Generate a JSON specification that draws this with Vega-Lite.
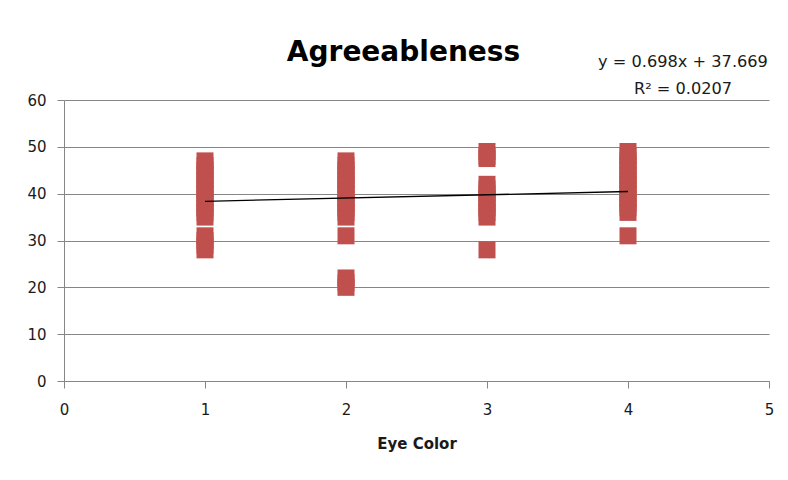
{
  "$schema": "https://vega.github.io/schema/vega-lite/v6.json",
  "width": 705,
  "height": 281,
  "autosize": {"type": "none"},
  "padding": {"left": 64, "top": 100, "right": 19, "bottom": 99},
  "background": "white",
  "config": {
    "view": {"stroke": null},
    "font": "DejaVu Sans",
    "axis": {
      "domainColor": "#868686",
      "tickColor": "#868686",
      "gridColor": "#868686",
      "labelFont": "DejaVu Sans",
      "labelFontSize": 15,
      "labelColor": "#1a1a1a",
      "titleFont": "DejaVu Sans",
      "titleColor": "#1a1a1a"
    }
  },
  "title": {
    "text": "Agreeableness",
    "font": "DejaVu Sans",
    "fontSize": 28,
    "fontWeight": "bold",
    "color": "#000000",
    "anchor": "middle",
    "baseline": "bottom",
    "offset": -41,
    "dx": -13
  },
  "datasets": {
    "pts": [
      {"eye": 1, "score": 28}, {"eye": 1, "score": 29}, {"eye": 1, "score": 30}, {"eye": 1, "score": 31},
      {"eye": 1, "score": 35}, {"eye": 1, "score": 36}, {"eye": 1, "score": 37}, {"eye": 1, "score": 38},
      {"eye": 1, "score": 39}, {"eye": 1, "score": 40}, {"eye": 1, "score": 41}, {"eye": 1, "score": 42},
      {"eye": 1, "score": 43}, {"eye": 1, "score": 44}, {"eye": 1, "score": 45}, {"eye": 1, "score": 46},
      {"eye": 1, "score": 47},
      {"eye": 2, "score": 20}, {"eye": 2, "score": 21}, {"eye": 2, "score": 22}, {"eye": 2, "score": 31},
      {"eye": 2, "score": 35}, {"eye": 2, "score": 36}, {"eye": 2, "score": 37}, {"eye": 2, "score": 38},
      {"eye": 2, "score": 39}, {"eye": 2, "score": 40}, {"eye": 2, "score": 41}, {"eye": 2, "score": 42},
      {"eye": 2, "score": 43}, {"eye": 2, "score": 44}, {"eye": 2, "score": 45}, {"eye": 2, "score": 46},
      {"eye": 2, "score": 47},
      {"eye": 3, "score": 28}, {"eye": 3, "score": 35}, {"eye": 3, "score": 36}, {"eye": 3, "score": 37},
      {"eye": 3, "score": 38}, {"eye": 3, "score": 39}, {"eye": 3, "score": 40}, {"eye": 3, "score": 41},
      {"eye": 3, "score": 42}, {"eye": 3, "score": 47.5}, {"eye": 3, "score": 48}, {"eye": 3, "score": 49},
      {"eye": 4, "score": 31}, {"eye": 4, "score": 36}, {"eye": 4, "score": 37}, {"eye": 4, "score": 38},
      {"eye": 4, "score": 39}, {"eye": 4, "score": 40}, {"eye": 4, "score": 41}, {"eye": 4, "score": 42},
      {"eye": 4, "score": 43}, {"eye": 4, "score": 44}, {"eye": 4, "score": 45}, {"eye": 4, "score": 46},
      {"eye": 4, "score": 47}, {"eye": 4, "score": 48}, {"eye": 4, "score": 49}
    ],
    "trend": [
      {"eye": 1, "score": 38.367},
      {"eye": 4, "score": 40.461}
    ]
  },
  "layer": [
    {
      "data": {"name": "pts"},
      "mark": {"type": "point", "shape": "square", "filled": true, "size": 289, "color": "#C0504D", "opacity": 1, "strokeWidth": 0},
      "encoding": {
        "x": {
          "field": "eye", "type": "quantitative",
          "scale": {"domain": [0, 5], "nice": false, "zero": false},
          "axis": {
            "values": [0, 1, 2, 3, 4, 5], "grid": false, "tickSize": 7,
            "labelPadding": 14, "title": "Eye Color", "titleFontSize": 15,
            "titleFontWeight": "bold", "titlePadding": 19, "format": "d", "labelFlush": false
          }
        },
        "y": {
          "field": "score", "type": "quantitative",
          "scale": {"domain": [0, 60], "nice": false},
          "axis": {
            "values": [0, 10, 20, 30, 40, 50, 60], "grid": true, "tickSize": 7,
            "labelPadding": 11, "title": null, "format": "d"
          }
        }
      }
    },
    {
      "data": {"name": "trend"},
      "mark": {"type": "line", "color": "#000000", "strokeWidth": 1.3},
      "encoding": {
        "x": {"field": "eye", "type": "quantitative"},
        "y": {"field": "score", "type": "quantitative"}
      }
    },
    {
      "data": {"values": [{}]},
      "mark": {
        "type": "text", "font": "DejaVu Sans", "fontSize": 16.2, "color": "#1a1a1a",
        "align": "center", "baseline": "alphabetic", "lineHeight": 27, "clip": false
      },
      "encoding": {
        "x": {"datum": 4.39},
        "y": {"datum": 67.05},
        "text": {"value": ["y = 0.698x + 37.669", "R² = 0.0207"]}
      }
    }
  ]
}
